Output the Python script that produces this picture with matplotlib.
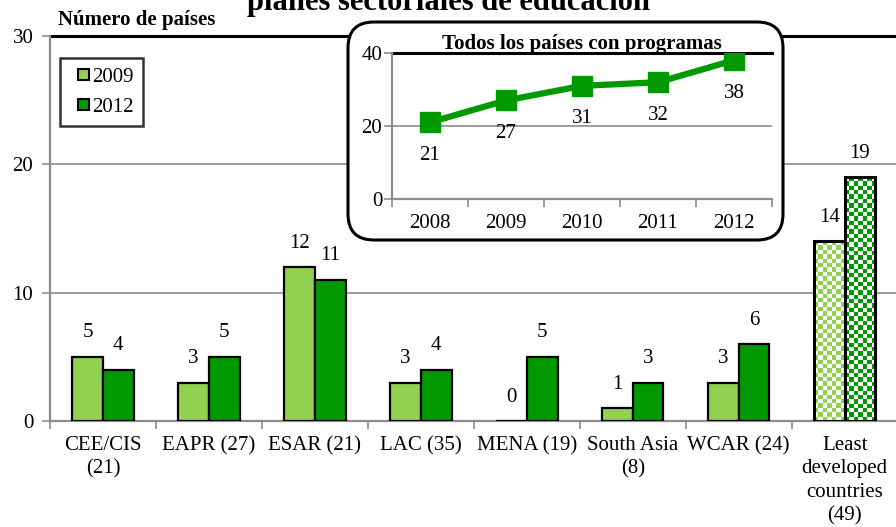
import numpy as np
import matplotlib.pyplot as plt
from matplotlib.patches import FancyBboxPatch, Patch, Rectangle
from matplotlib.legend_handler import HandlerPatch
from matplotlib.colors import to_rgb

plt.rcParams['font.family'] = ['Liberation Serif', 'DejaVu Serif']

# datos por región
regions = ['CEE/CIS\n(21)', 'EAPR (27)', 'ESAR (21)', 'LAC (35)', 'MENA (19)',
           'South Asia\n(8)', 'WCAR (24)', 'Least\ndeveloped\ncountries\n(49)']
v2009 = [5, 3, 12, 3, 0, 1, 3, 14]
v2012 = [4, 5, 11, 4, 5, 3, 6, 19]

# serie del recuadro
years = ['2008', '2009', '2010', '2011', '2012']
total = [21, 27, 31, 32, 38]

light = '#92D050'
dark = '#009900'
grey = '#8c8c8c'
fs = 15

fig = plt.figure(figsize=(8.96, 5.27), dpi=100)
ax = fig.add_axes([0.0558, 0.2011, 0.946, 0.7306])
ax.set_zorder(0)

x = np.arange(len(regions))
w = 0.29
b1 = ax.bar(x - w/2, v2009, w, color=light, edgecolor='black', lw=1.6, zorder=3)
b2 = ax.bar(x + w/2, v2012, w, color=dark, edgecolor='black', lw=1.6, zorder=3)


def checker(bar, color):
    # relleno a cuadros para la última categoría
    x0, bw, bh = bar.get_x(), bar.get_width(), bar.get_height()
    nx = 7
    ny = int(round(bh / 0.34))
    ii, jj = np.indices((ny, nx))
    img = np.ones((ny, nx, 3))
    img[(ii + jj) % 2 == 0] = to_rgb(color)
    ax.imshow(img, extent=(x0, x0 + bw, 0, bh), aspect='auto',
              interpolation='nearest', origin='lower', zorder=3)
    bar.set_facecolor('none')
    bar.set_zorder(4)
    bar.set_linewidth(2.2)


checker(b1[-1], light)
checker(b2[-1], dark)

for bars, vals in ((b1, v2009), (b2, v2012)):
    for b, v in zip(bars, vals):
        ax.annotate(str(v), (b.get_x() + b.get_width()/2, v),
                    xytext=(0, 24), textcoords='offset pixels',
                    ha='center', va='center', fontsize=fs)

ax.set_xlim(-0.5, 7.5)
ax.set_ylim(0, 30)
ax.set_yticks([0, 10, 20, 30])
for yy in (10, 20):
    ax.axhline(yy, color=grey, lw=1.2, zorder=1)
ax.axhline(30, color='black', lw=2.2, zorder=1, clip_on=False)
for s in ('top', 'right'):
    ax.spines[s].set_visible(False)
for s in ('left', 'bottom'):
    ax.spines[s].set_color(grey)
    ax.spines[s].set_linewidth(1.6)
ax.set_xticks(x)
ax.set_xticklabels(regions, fontsize=fs, linespacing=1.3)
ax.set_xticks(np.arange(-0.5, 8, 1), minor=True)
ax.tick_params(axis='x', which='major', length=0, pad=11)
ax.tick_params(axis='x', which='minor', length=6, color=grey, width=1.2)
ax.tick_params(axis='y', length=6, color=grey, width=1.2, pad=6, labelsize=fs)


def small_square(legend, orig_handle, xdescent, ydescent, width, height, fontsize):
    side = 0.55 * fontsize
    return Rectangle((width - side - xdescent, (height - side) / 2 - ydescent),
                     side, side)


leg = ax.legend(handles=[Patch(fc=light, ec='black', lw=1.5, label='2009'),
                         Patch(fc=dark, ec='black', lw=1.5, label='2012')],
                handler_map={Patch: HandlerPatch(patch_func=small_square)},
                loc='upper left', bbox_to_anchor=(60/896, 1 - 58/527),
                bbox_transform=fig.transFigure, borderaxespad=0, fancybox=False,
                fontsize=fs, handlelength=0.95, handleheight=0.7,
                handletextpad=0.12, labelspacing=0.5, borderpad=0.45)
leg.get_frame().set_edgecolor('black')
leg.get_frame().set_linewidth(1.8)

fig.text(0.5, 1 - 10/527, 'planes sectoriales de educación', ha='center',
         va='baseline', fontsize=22, fontweight='bold')
fig.text(58/896, 1 - 20/527, 'Número de países', ha='left', va='center',
         fontsize=fs, fontweight='bold')

# recuadro redondeado con la serie total
box = FancyBboxPatch((3.48, 2.87), 4.35, 2.18,
                     boxstyle='round,pad=0,rounding_size=0.26',
                     transform=fig.dpi_scale_trans, fc='white', ec='black',
                     lw=2.2, zorder=1)
fig.add_artist(box)

axin = fig.add_axes([0.4375, 0.6224, 0.424, 0.277])
axin.set_zorder(2)
axin.patch.set_alpha(0)
xi = np.arange(len(years))
axin.plot(xi, total, color=dark, lw=4.5, marker='s', markersize=15, zorder=3)
for xx, v in zip(xi, total):
    axin.annotate(str(v), (xx, v), xytext=(0, -33), textcoords='offset pixels',
                  ha='center', va='center', fontsize=fs)
axin.set_xlim(-0.5, 4.5)
axin.set_ylim(0, 40)
axin.set_yticks([0, 20, 40])
axin.axhline(20, color=grey, lw=1.2, zorder=1)
axin.axhline(40, color='black', lw=2.2, zorder=1, clip_on=False)
for s in ('top', 'right'):
    axin.spines[s].set_visible(False)
for s in ('left', 'bottom'):
    axin.spines[s].set_color(grey)
    axin.spines[s].set_linewidth(1.6)
axin.set_xticks(xi)
axin.set_xticklabels(years, fontsize=fs)
axin.set_xticks(np.arange(-0.5, 5, 1), minor=True)
axin.tick_params(axis='x', which='major', length=0, pad=11)
axin.tick_params(axis='x', which='minor', length=6, color=grey, width=1.2)
axin.tick_params(axis='y', length=6, color=grey, width=1.2, pad=1, labelsize=fs)

fig.text(582/896, 1 - 44/527, 'Todos los países con programas', ha='center',
         va='center', fontsize=fs, fontweight='bold', zorder=5)

fig.savefig('out.png', dpi=100)
